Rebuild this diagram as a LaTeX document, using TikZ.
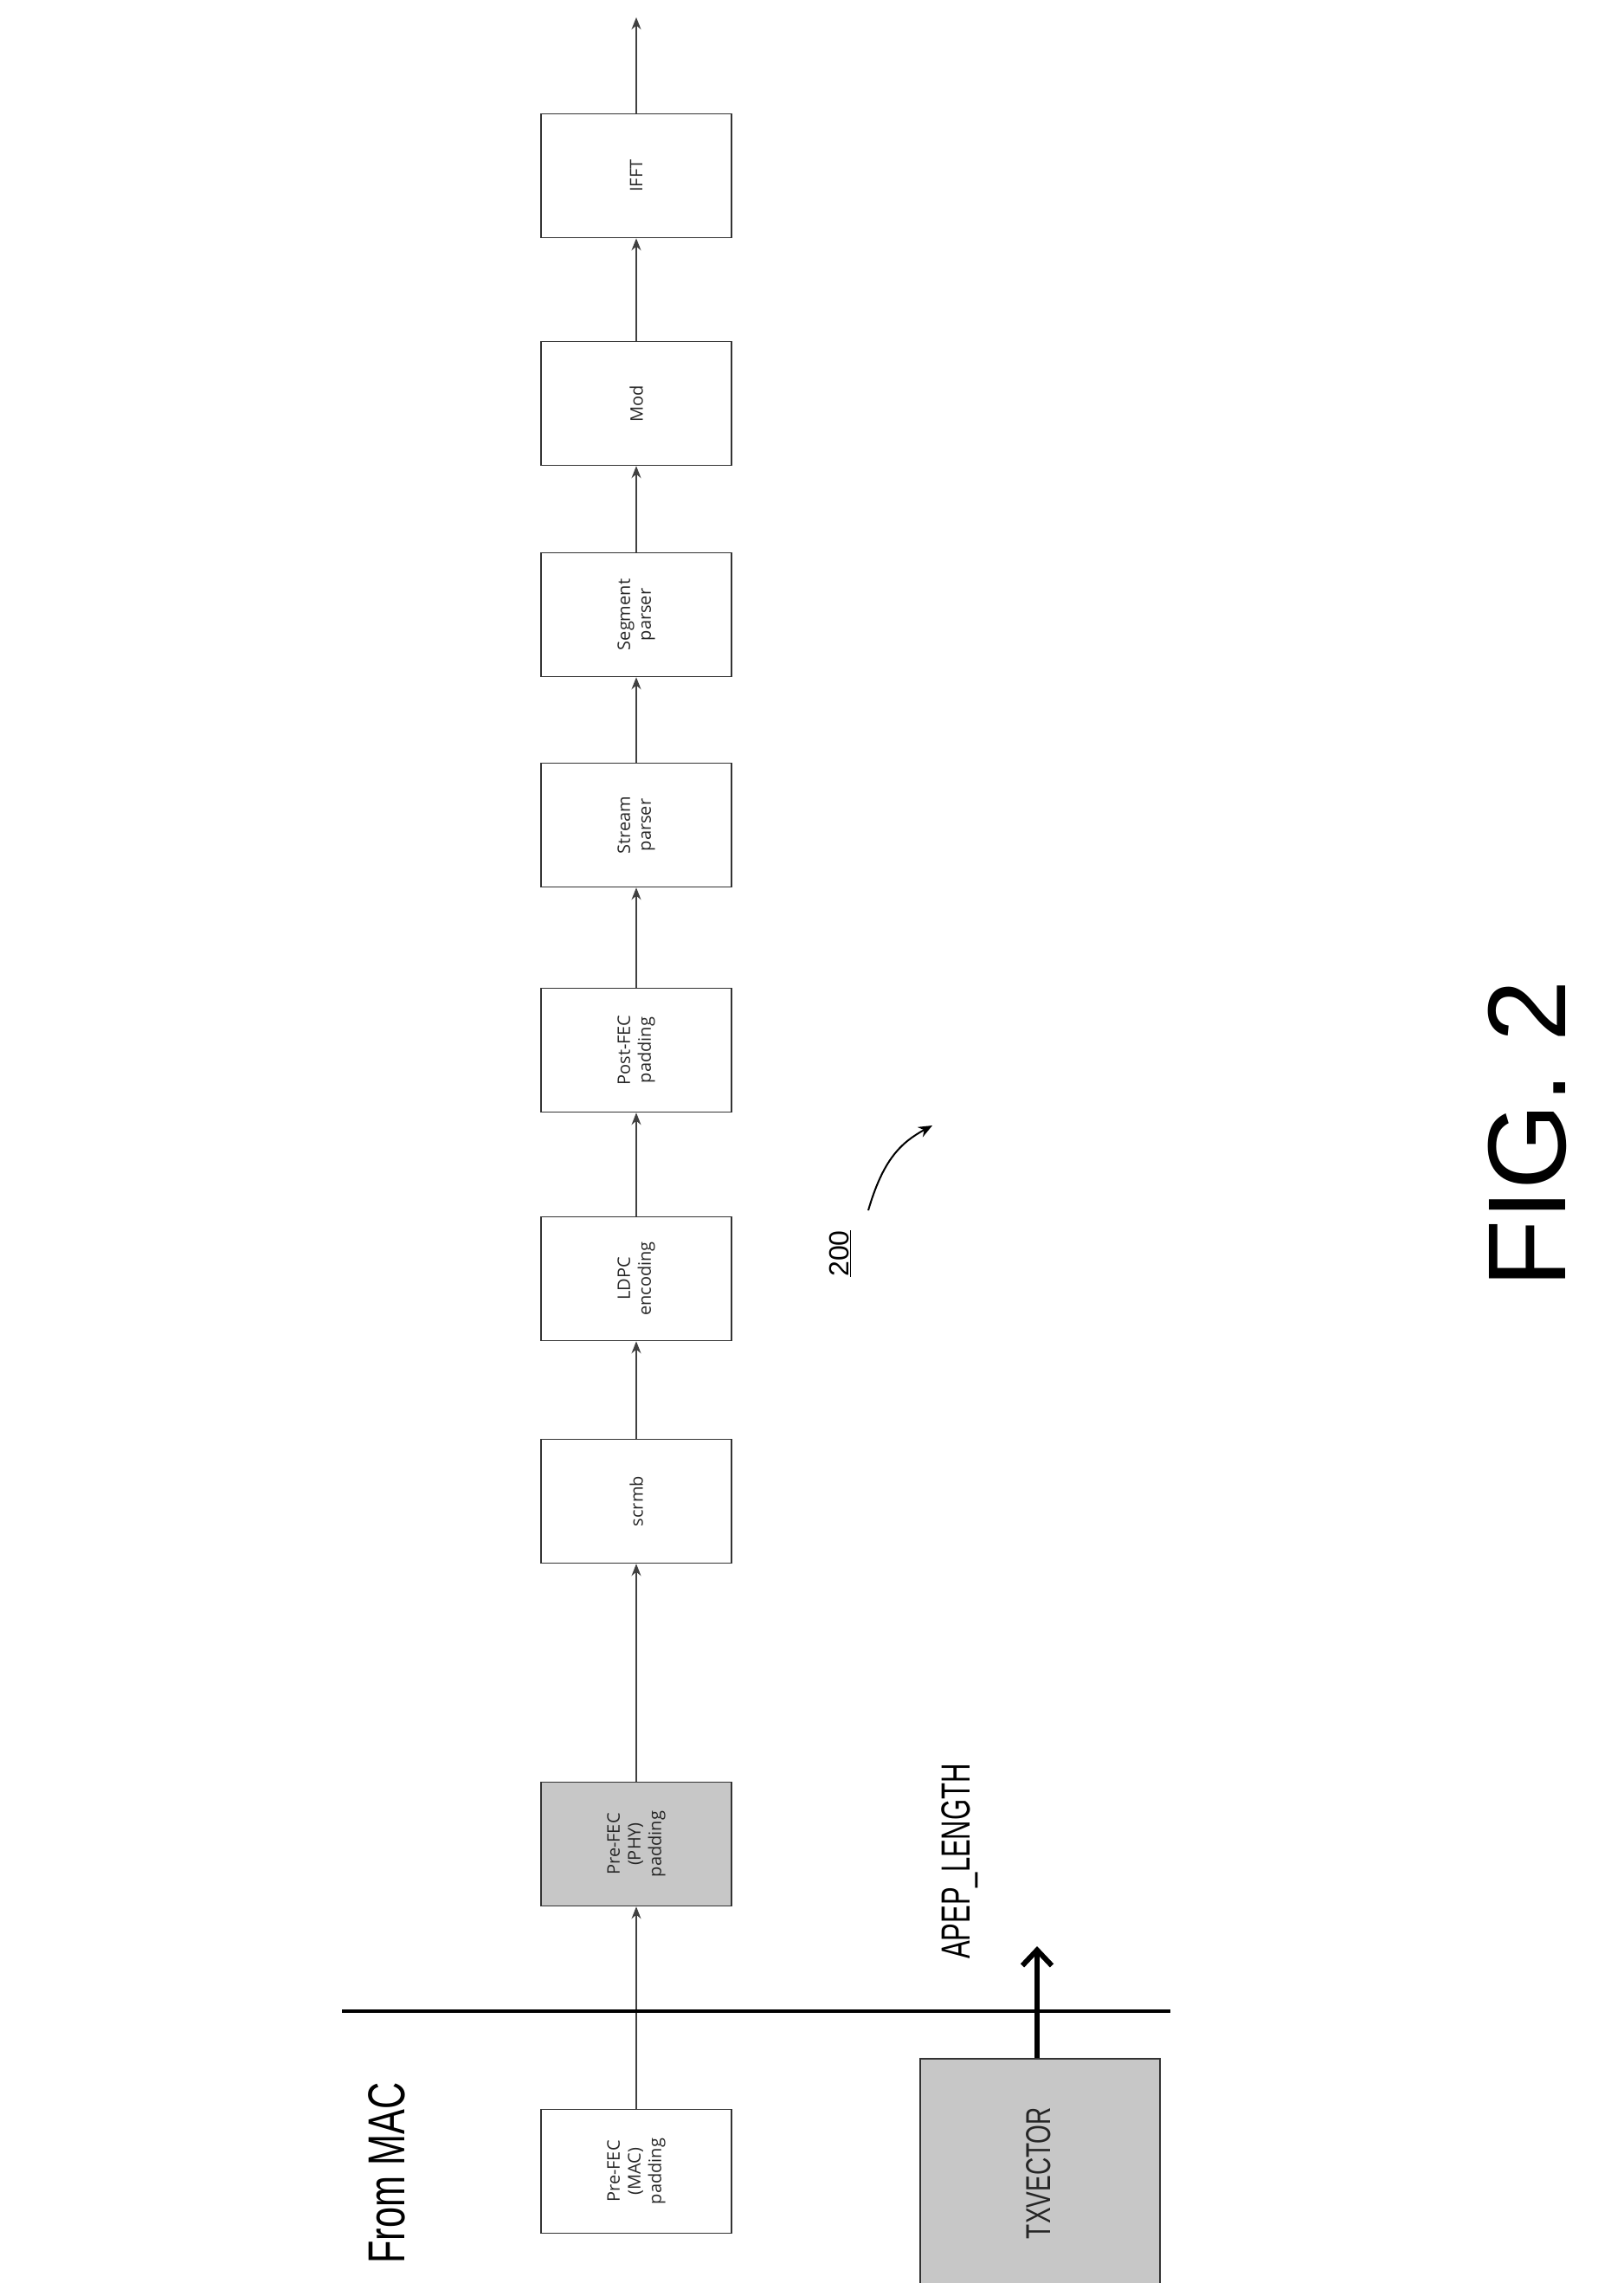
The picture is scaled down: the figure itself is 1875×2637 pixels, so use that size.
\documentclass[tikz,border=0pt]{standalone}
\usepackage{fontspec}
\setmainfont{Liberation Sans}
\newfontfamily\boxfont{Open Sans}
\usetikzlibrary{arrows.meta}
\begin{document}
\begin{tikzpicture}[x=1pt,y=-1pt,
  blk/.style={draw=black!80,line width=1.5pt,minimum width=220pt,minimum height=143pt,inner sep=0pt},
  shaded/.style={fill=black!22},
  lbl/.style={rotate=90,align=center,font=\boxfont\fontsize{20}{24}\selectfont,text=black!85},
  flow/.style={draw=black!75,line width=1.5pt,-{Stealth[length=14pt,width=11pt]}}]
\useasboundingbox (0,0) rectangle (1875,2637);
\node[blk] (ifft) at (735,203) {};
\node[lbl] at (ifft) {IFFT};
\node[blk] (mod) at (735,466) {};
\node[lbl] at (mod) {Mod};
\node[blk] (seg) at (735,710) {};
\node[lbl] at (seg) {Segment\\parser};
\node[blk] (str) at (735,953) {};
\node[lbl] at (str) {Stream\\parser};
\node[blk] (post) at (735,1213) {};
\node[lbl] at (post) {Post-FEC\\padding};
\node[blk] (ldpc) at (735,1477) {};
\node[lbl] at (ldpc) {LDPC\\encoding};
\node[blk] (scr) at (735,1734) {};
\node[lbl] at (scr) {scrmb};
\node[blk,shaded] (phy) at (735,2130) {};
\node[lbl] at (phy) {Pre-FEC\\(PHY)\\padding};
\node[blk] (mac) at (735,2508) {};
\node[lbl] at (mac) {Pre-FEC\\(MAC)\\padding};
\node[draw=black!80,line width=1.5pt,fill=black!22,minimum width=277pt,minimum height=270pt,anchor=north west] (tx) at (1062,2377) {};
\node[rotate=90,font=\fontsize{40}{48}\selectfont,text=black!85] at (1200,2510) {\scalebox{0.7}[1]{TXVECTOR}};
\coordinate (top) at (735,20);
\draw[flow] (mac) -- (phy);
\draw[flow] (phy) -- (scr);
\draw[flow] (scr) -- (ldpc);
\draw[flow] (ldpc) -- (post);
\draw[flow] (post) -- (str);
\draw[flow] (str) -- (seg);
\draw[flow] (seg) -- (mod);
\draw[flow] (mod) -- (ifft);
\draw[flow] (ifft) -- (top);
\coordinate (hl) at (395,2323);
\coordinate (hr) at (1352,2323);
\draw[line width=4pt] (hl) -- (hr);
\coordinate (apep) at (1198,2248);
\draw[line width=6pt,-{Straight Barb[length=18pt,width=34pt,line width=6pt]}] (tx.north -| apep) -- (apep);
\node[rotate=90,font=\fontsize{47}{56}\selectfont] (apl) at (1109,2150) {\scalebox{0.66}[1]{APEP\_LENGTH}};
\node[rotate=90,font=\fontsize{60}{70}\selectfont] (frm) at (447,2510) {\scalebox{0.72}[1]{From MAC}};
\node[rotate=90,font=\fontsize{32}{38}\selectfont] (n200) at (970,1448) {\underline{200}};
\coordinate (a200) at (1077,1300);
\draw[line width=2pt,-{Stealth[length=16pt,width=13pt]}] (1003,1398) .. controls (1020,1340) and (1040,1320) .. (a200);
\node[rotate=90,font=\fontsize{128}{150}\selectfont] (fig) at (1764,1310) {FIG. 2};
\end{tikzpicture}
\end{document}
